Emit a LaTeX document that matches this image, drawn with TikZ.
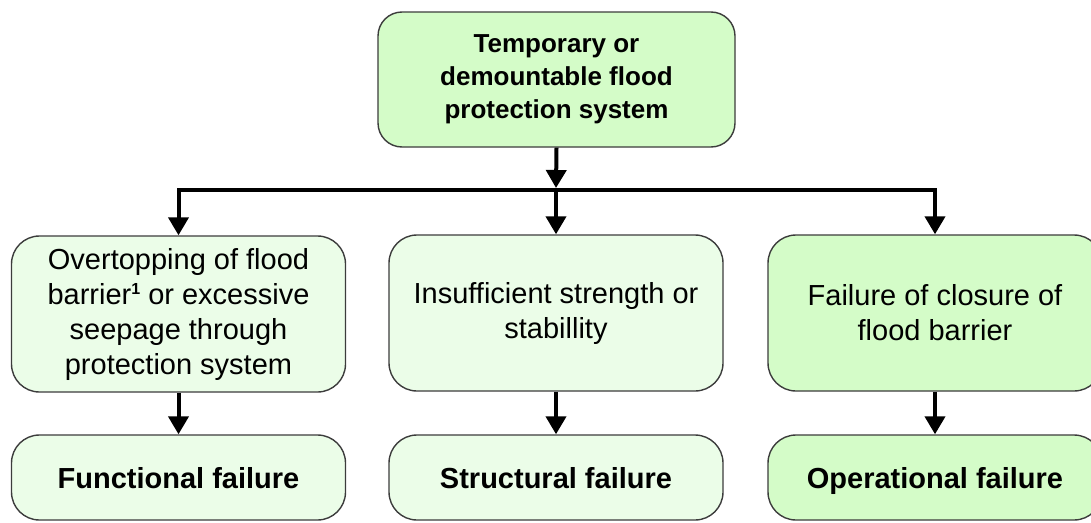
\documentclass[tikz,border=0pt]{standalone}
\usepackage{fontspec}
\setmainfont{Liberation Sans}
\usetikzlibrary{arrows.meta}
\definecolor{boxdark}{RGB}{212,252,200}
\definecolor{boxlight}{RGB}{235,253,232}
\definecolor{edge}{RGB}{60,60,60}
\begin{document}
\begin{tikzpicture}[x=1pt,y=-1pt,
  box/.style={draw=edge, line width=1.4pt, rounded corners=28pt, align=center,
    inner sep=0pt, minimum width=334pt},
  midbox/.style={box, minimum height=156pt, font=\fontsize{29}{35}\selectfont},
  botbox/.style={box, minimum height=85pt, text height=24pt, text depth=3pt,
    font=\fontsize{29}{35}\selectfont\bfseries},
  arr/.style={line width=4pt, -{Triangle[width=20pt,length=18pt]}, line join=miter}
]
\clip (0,0) rectangle (1091,522);
\node[box, fill=boxdark, minimum width=357pt, minimum height=135pt, rounded corners=24pt,
  font=\fontsize{26}{33}\selectfont\bfseries] (top) at (556.5,79.5)
  {Temporary or\\demountable flood\\protection system};
\node[midbox, fill=boxlight] (l1) at (178.5,314)
  {Overtopping of flood\\barrier\raisebox{10pt}{\fontsize{16}{16}\selectfont\bfseries 1} or excessive\\seepage through\\protection system};
\node[midbox, fill=boxlight] (l2) at (556,313) {Insufficient strength or\\stabillity};
\node[midbox, fill=boxdark] (l3) at (935,313) {Failure of closure of\\flood barrier};
\node[botbox, fill=boxlight] (b1) at (178.5,477.5) {Functional failure};
\node[botbox, fill=boxlight] (b2) at (556,477.5) {Structural failure};
\node[botbox, fill=boxdark] (b3) at (935,477.5) {Operational failure};
\coordinate (j) at (556,190);
\coordinate (jt) at (556,188);
\coordinate (jl) at (178.5,190);
\coordinate (jr) at (935,190);
\draw[arr] (top.south) -- (jt);
\draw[arr] (j) -- (jl) -- (l1.north);
\draw[arr] (j) -- (jr) -- (l3.north);
\draw[arr] (j) -- (l2.north);
\draw[arr] (l1.south) -- (b1.north);
\draw[arr] (l2.south) -- (b2.north);
\draw[arr] (l3.south) -- (b3.north);
\end{tikzpicture}
\end{document}
